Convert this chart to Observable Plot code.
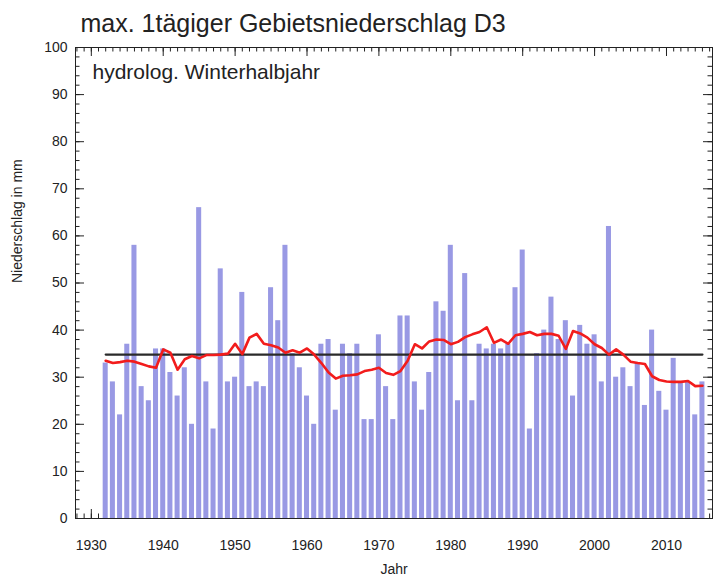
<!DOCTYPE html>
<html>
<head>
<meta charset="utf-8">
<script src="https://cdn.jsdelivr.net/npm/d3@7"></script>
<script src="https://cdn.jsdelivr.net/npm/@observablehq/plot@0.6"></script>
<style>
  html, body { margin: 0; padding: 0; background: #fff; }
  #chart svg { display: block; }
</style>
</head>
<body>
<div id="chart"></div>
<script>
// ---- data ----
const titleText = "max. 1tägiger Gebietsniederschlag D3";
const subtitleText = "hydrolog. Winterhalbjahr";
const yLabelText = "Niederschlag in mm";
const xLabelText = "Jahr";

const years = [
  1932,1933,1934,1935,1936,1937,1938,1939,1940,1941,
  1942,1943,1944,1945,1946,1947,1948,1949,1950,1951,
  1952,1953,1954,1955,1956,1957,1958,1959,1960,1961,
  1962,1963,1964,1965,1966,1967,1968,1969,1970,1971,
  1972,1973,1974,1975,1976,1977,1978,1979,1980,1981,
  1982,1983,1984,1985,1986,1987,1988,1989,1990,1991,
  1992,1993,1994,1995,1996,1997,1998,1999,2000,2001,
  2002,2003,2004,2005,2006,2007,2008,2009,2010,2011,
  2012,2013,2014,2015
];

// maximum 1-day areal precipitation (mm)
const maxPrecip = [
  33,29,22,37,58,28,25,36,36,31,
  26,32,20,66,29,19,53,29,30,48,
  28,29,28,49,42,58,35,32,26,20,
  37,38,23,37,35,37,21,21,39,28,
  21,43,43,29,23,31,46,44,58,25,
  52,25,37,36,37,36,37,49,57,19,
  35,40,47,38,42,26,41,37,39,29,
  62,30,32,28,33,24,40,27,23,34,
  29,29,22,29
];

// red smoothed line (mm)
const smoothLine = [
  33.5,33.0,33.2,33.5,33.3,32.8,32.3,32.0,35.9,35.2,
  31.6,33.8,34.5,34.0,34.7,34.7,34.8,35.0,37.1,34.9,
  38.4,39.2,37.1,36.8,36.3,35.2,35.7,35.2,36.1,34.8,
  33.0,31.0,29.7,30.3,30.4,30.6,31.3,31.6,32.0,30.9,
  30.5,31.3,33.5,37.0,36.1,37.6,38.0,37.9,37.0,37.5,
  38.5,39.1,39.6,40.6,37.3,38.0,37.1,38.9,39.2,39.6,
  38.9,39.2,39.2,38.8,36.0,39.8,39.3,38.4,37.0,36.2,
  34.8,35.9,34.8,33.3,33.0,32.8,30.2,29.4,29.1,29.0,
  29.0,29.2,28.1,28.2
];

// long-term mean (black line)
const meanValue = 34.8;

const xTicks = [1930,1940,1950,1960,1970,1980,1990,2000,2010];
const yTicks = [0,10,20,30,40,50,60,70,80,90,100];
const xMinorTicks = d3.range(1928, 2017);
const yMinorTicks = d3.range(0, 101, 2);

// ---- layout ----
const W = 714, H = 581;
const mL = 75, mR = 2, mT = 47, mB = 63;
const frameW = W - mL - mR, frameH = H - mT - mB;
const majorLen = 9, minorLen = 4.5;
const font = "Liberation Sans, Arial, Helvetica, sans-serif";
const ink = "#222";

const bars = years.map((y, i) => ({year: y, value: maxPrecip[i]}));
const smooth = years.map((y, i) => ({year: y, value: smoothLine[i]}));
const meanSeg = [{year: years[0], value: meanValue}, {year: years[years.length - 1], value: meanValue}];

const chart = Plot.plot({
  width: W,
  height: H,
  marginLeft: mL,
  marginRight: mR,
  marginTop: mT,
  marginBottom: mB,
  style: {fontFamily: font, background: "#fff", color: ink},
  x: {type: "linear", domain: [1927.8, 2016.4], axis: null},
  y: {type: "linear", domain: [0, 100], axis: null},
  marks: [
    // inward ticks: top & bottom (x), left & right (y)
    Plot.ruleX(xMinorTicks, {x: d => d, insetBottom: frameH - minorLen, stroke: ink, strokeWidth: 1}),
    Plot.ruleX(xTicks, {x: d => d, insetBottom: frameH - majorLen, stroke: ink, strokeWidth: 1}),
    Plot.ruleX(xMinorTicks, {x: d => d, insetTop: frameH - minorLen, stroke: ink, strokeWidth: 1}),
    Plot.ruleX(xTicks, {x: d => d, insetTop: frameH - majorLen, stroke: ink, strokeWidth: 1}),
    Plot.ruleY(yMinorTicks, {y: d => d, insetRight: frameW - minorLen, stroke: ink, strokeWidth: 1}),
    Plot.ruleY(yTicks, {y: d => d, insetRight: frameW - majorLen, stroke: ink, strokeWidth: 1}),
    Plot.ruleY(yMinorTicks, {y: d => d, insetLeft: frameW - minorLen, stroke: ink, strokeWidth: 1}),
    Plot.ruleY(yTicks, {y: d => d, insetLeft: frameW - majorLen, stroke: ink, strokeWidth: 1}),

    // bars
    Plot.rectY(bars, {x1: d => d.year - 0.35, x2: d => d.year + 0.35, y1: 0, y2: "value", fill: "#9999e4"}),

    // mean line and smoothed line
    Plot.line(meanSeg, {x: "year", y: "value", stroke: "#2a2a2a", strokeWidth: 2.2}),
    Plot.line(smooth, {x: "year", y: "value", stroke: "#f21c1c", strokeWidth: 2.6, strokeLinejoin: "round"}),

    Plot.frame({stroke: ink, strokeWidth: 1}),

    // tick labels
    Plot.text(yTicks, {y: d => d, text: d => String(d), frameAnchor: "left", textAnchor: "end", dx: -8, fontSize: 14, fill: ink}),
    Plot.text(xTicks, {x: d => d, text: d => String(d), frameAnchor: "bottom", lineAnchor: "middle", dy: 27, fontSize: 14, fill: ink}),

    // axis titles
    Plot.text([yLabelText], {frameAnchor: "left", rotate: -90, dx: -58, fontSize: 14, fill: ink}),
    Plot.text([xLabelText], {frameAnchor: "bottom", lineAnchor: "middle", dy: 51, fontSize: 14, fill: ink}),

    // title and subtitle
    Plot.text([titleText], {frameAnchor: "top-left", textAnchor: "start", lineAnchor: "middle", dx: 5, dy: -24, fontSize: 25, fill: ink}),
    Plot.text([subtitleText], {frameAnchor: "top-left", textAnchor: "start", lineAnchor: "middle", dx: 17, dy: 25, fontSize: 21, fill: ink})
  ]
});

document.getElementById("chart").appendChild(chart);
</script>
</body>
</html>
